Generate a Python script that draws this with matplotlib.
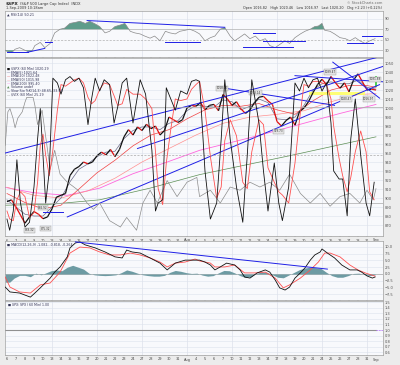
import numpy as np
import matplotlib.pyplot as plt
from matplotlib.collections import LineCollection

# x axis = trading-day index (0 = 6 Jul 2009 ... 41 = 1 Sep 2009)
day_labels = ['6', '7', '8', '9', '10', '13', '14', '15', '16', '17', '20', '21', '22', '23', '24',
              '27', '28', '29', '30', '31', 'Aug', '4', '5', '6', '7', '10', '11', '12', '13', '14',
              '17', '18', '19', '20', '21', '24', '25', '26', '27', '28', '31', 'Sep', '2']
week_starts = [5, 10, 15, 20, 25, 30, 35, 40]

# $SPX price, half-day steps
price = [896, 898, 890, 881, 872, 879, 885, 882, 877, 879, 888, 901, 903, 905, 925, 932, 935, 940,
         938, 940, 947, 951, 948, 954, 946, 954, 968, 976, 970, 979, 975, 982, 977, 980, 970, 975,
         990, 987, 984, 987, 1000, 1003, 1002, 1006, 998, 1003, 1004, 997, 1015, 1010, 1003, 1007,
         999, 994, 998, 1006, 1012, 1013, 1008, 1004, 985, 980, 986, 990, 981, 996, 1000, 1007,
         1017, 1026, 1032, 1026, 1035, 1028, 1022, 1028, 1018, 1031, 1038, 1029, 1020, 1021, 1020]
price_x = [i * 0.5 for i in range(len(price))]

ema5 = [898, 890, 882, 880, 880, 890, 900, 918, 932, 938, 946, 951, 952, 966, 975, 979, 979, 976,
        983, 986, 997, 1003, 1002, 1001, 1009, 1007, 998, 1002, 1010, 1006, 988, 987, 990, 1003,
        1020, 1027, 1029, 1027, 1027, 1031, 1023, 1021]
ema20_x = [0, 2, 4, 6, 8, 10, 12, 14, 16, 18, 20, 22, 24, 26, 28, 30, 32, 34, 36, 38, 40, 41]
ema20 = [905, 895, 888, 892, 910, 928, 942, 958, 970, 976, 988, 998, 1003, 1002, 1005, 998, 993,
         1008, 1020, 1025, 1025, 1023]
ema50_x = [0, 3, 6, 9, 12, 15, 18, 21, 24, 27, 30, 33, 36, 39, 41]
ema50 = [912, 903, 900, 908, 922, 940, 955, 970, 983, 990, 993, 997, 1007, 1015, 1016]
ema200_x = [-0.3, 2.9, 6.7, 10.3, 14, 17.8, 21.4, 27, 32.6, 37, 41]
ema200 = [912, 906, 903, 911, 927, 940, 953, 967, 982, 994, 1004]
sma_x = [-0.3, 4.8, 10.3, 15.9, 21.4, 31.4, 41]
sma = [892, 893, 898, 911, 926, 947, 968]

# slow stochastic
sto_x = [0.0, 0.3, 0.7, 1.1, 1.5, 2.0, 2.5, 3.0, 3.4, 3.7, 4.0, 4.3, 4.7, 5.1, 5.6, 6.0, 6.5, 7.0,
         7.5, 8.0, 8.5, 9.0, 9.4, 9.8, 10.3, 10.8, 11.4, 11.9, 12.3, 12.8, 13.3, 14.0, 14.8, 15.4,
         16.1, 16.5, 16.8, 17.3, 17.7, 18.2, 18.7, 19.3, 20.0, 20.5, 21.0, 21.4, 22.0, 22.6, 23.3,
         23.8, 24.2, 24.8, 25.5, 26.2, 26.7, 27.2, 28.0, 28.5, 29.0, 29.7, 30.2, 30.6, 31.3, 32.0,
         32.5, 33.0, 33.5, 34.0, 34.5, 35.0, 35.5, 36.0, 36.3, 36.9, 37.3, 37.8, 38.2, 38.7, 39.3,
         39.9, 40.3, 40.8]
sto_k = [10, 3, 15, 47, 20, 5, 8, 30, 60, 79, 50, 20, 40, 98, 95, 88, 97, 99, 96, 98, 92, 69, 85,
         98, 90, 97, 94, 70, 80, 95, 98, 70, 97, 88, 53, 15, 20, 22, 92, 85, 78, 90, 88, 96, 97, 96,
         40, 10, 20, 60, 97, 60, 30, 8, 50, 97, 70, 40, 15, 45, 20, 9, 30, 95, 90, 98, 92, 97, 98,
         90, 95, 70, 40, 35, 35, 12, 60, 85, 50, 20, 12, 33]
sto_d = [15, 10, 9, 22, 27, 24, 11, 14, 33, 56, 63, 50, 37, 53, 78, 94, 93, 95, 97, 98, 95, 86, 82,
         84, 91, 95, 94, 87, 81, 82, 91, 88, 88, 85, 79, 52, 29, 19, 45, 66, 85, 84, 85, 91, 94, 96,
         78, 49, 23, 30, 59, 72, 62, 33, 29, 52, 72, 69, 42, 33, 27, 25, 20, 45, 72, 94, 93, 96, 96,
         95, 94, 85, 68, 48, 37, 27, 36, 52, 65, 52, 27, 22]

# $VIX overlay (drawn on the oscillator scale)
vix_x = [-0.2, 0.1, 0.33, 0.67, 0.9, 1.2, 1.7, 2.0, 2.2, 2.9, 3.1, 3.4, 3.9, 4.8, 5.3, 5.9, 6.7, 7.2,
         7.9, 8.9, 9.6, 10.3, 11.4, 12.6, 13.3, 14.4, 15.1, 15.9, 16.7, 17.8, 18.9, 20.0, 21.1, 21.4,
         22.6, 23.7, 24.8, 25.9, 27.0, 28.1, 29.2, 30.3, 31.4, 32.6, 33.7, 34.8, 35.9, 37.0, 38.1,
         39.2, 40.0, 40.7, 41.0]
vix = [56, 77, 79, 73, 67, 73, 77, 83, 86, 86, 81, 69, 78, 41, 53, 38, 33, 31, 28, 20, 16, 20, 9, 5,
       11, 3, 20, 28, 20, 34, 24, 33, 36, 24, 28, 20, 30, 28, 33, 30, 33, 28, 38, 26, 20, 26, 18, 24,
       26, 20, 28, 22, 29]

# RSI(14)
rsi_x = [-0.2, 0.1, 0.55, 0.9, 1.4, 2.0, 2.3, 2.8, 3.1, 3.7, 4.2, 4.8, 5.3, 5.9, 6.4, 7.0, 7.6, 8.1,
         8.7, 9.2, 9.8, 10.3, 10.9, 11.4, 12.0, 12.6, 13.1, 13.7, 14.2, 14.8, 15.3, 15.9, 16.4, 17.0,
         17.6, 18.1, 18.7, 19.2, 19.8, 20.3, 20.9, 21.4, 22.0, 22.6, 23.1, 23.7, 24.2, 24.8, 25.3,
         25.9, 26.4, 27.0, 27.6, 28.1, 28.7, 29.2, 29.8, 30.3, 30.9, 31.4, 32.0, 32.6, 33.1, 33.7,
         34.2, 34.6, 35.0, 35.3, 35.9, 36.4, 37.0, 37.6, 38.1, 38.7, 39.2, 39.8, 40.3, 40.9]
rsi = [30, 27, 26, 32, 35, 30, 28, 29, 39, 45, 35, 43, 63, 70, 72, 81, 83, 85, 81, 85, 80, 75, 63, 66,
       75, 78, 81, 66, 63, 61, 57, 53, 57, 48, 66, 63, 61, 66, 68, 70, 66, 61, 48, 54, 57, 70, 73, 57,
       48, 55, 61, 52, 57, 48, 52, 39, 35, 41, 48, 43, 54, 61, 66, 70, 75, 76, 81, 68, 66, 61, 54, 52,
       48, 54, 48, 43, 48, 52]

# MACD(12,26,9)
macd_x = [-0.2, 0.33, 1.4, 2.6, 3.1, 3.7, 4.8, 5.3, 5.9, 6.7, 7.0, 7.6, 8.1, 8.7, 9.8, 10.9, 12.0,
          12.8, 13.3, 13.9, 14.8, 15.9, 17.0, 17.8, 18.7, 19.8, 20.9, 21.4, 22.0, 22.6, 23.1, 23.7,
          24.4, 25.3, 25.9, 26.4, 27.0, 27.8, 28.7, 29.2, 29.8, 30.3, 30.9, 31.4, 32.0, 32.6, 33.1,
          33.7, 34.2, 34.8, 35.0, 35.6, 36.4, 37.2, 38.1, 38.9, 39.4, 40.0, 40.6, 40.9]
macd = [-4.8, -6.6, -7.0, -8.5, -7.0, -5.1, -1.5, 0.7, 2.6, 6.3, 9.6, 11.4, 11.8, 10.7, 9.6, 8.1,
        6.3, 5.9, 8.8, 8.1, 7.7, 5.9, 4.0, 1.5, 4.0, 5.1, 5.1, 5.1, 4.4, 3.3, 1.5, 2.6, 4.0, 3.3, 1.5,
        -1.1, -1.5, 0.4, 1.5, 0.7, -2.2, -5.1, -5.9, -4.8, -1.5, 0.4, 2.2, 5.1, 7.0, 8.1, 9.2, 7.7,
        5.9, 3.3, 1.5, 1.5, 0.7, -0.7, -1.5, -1.1]
signal_x = [-0.2, 0.33, 1.4, 2.6, 3.7, 4.8, 5.9, 7.0, 8.1, 9.2, 10.3, 11.4, 12.6, 13.7, 14.8, 15.9,
            17.0, 17.8, 18.7, 19.8, 20.9, 21.4, 22.6, 23.1, 24.2, 25.3, 26.4, 27.6, 28.7, 29.8, 30.7,
            31.4, 32.6, 33.7, 34.6, 35.3, 35.9, 37.0, 38.1, 39.0, 39.8, 40.9]
signal = [-1.1, -4.8, -6.6, -7.0, -4.0, -3.3, 0.7, 7.7, 9.9, 9.6, 8.1, 7.0, 7.0, 7.7, 7.0, 5.9, 4.4,
          2.6, 4.0, 4.4, 5.5, 4.8, 4.0, 2.6, 2.6, 3.3, 0.4, 0.4, 0.7, -1.5, -5.1, -4.0, -1.5, 1.5, 4.4,
          7.7, 7.7, 6.3, 3.3, 1.5, 0.4, -0.8]
hist_x = [-0.2, 0.3, 0.8, 1.4, 2.0, 2.6, 3.2, 3.8, 4.4, 4.9, 5.5, 6.1, 6.7, 7.3, 7.9, 8.5, 9.1, 9.7,
          10.3, 10.9, 11.5, 12.1, 12.7, 13.3, 13.9, 14.5, 15.1, 15.7, 16.3, 16.9, 17.5, 18.1, 18.7,
          19.3, 19.9, 20.5, 21.1, 21.7, 22.3, 22.9, 23.5, 24.1, 24.7, 25.3, 25.9, 26.5, 27.1, 27.7,
          28.3, 28.9, 29.5, 30.1, 30.7, 31.3, 31.9, 32.5, 33.1, 33.7, 34.3, 34.9, 35.5, 36.1, 36.7,
          37.3, 37.9, 38.5, 39.1, 39.7, 40.3, 40.9]
hist = [-3, -3, -1.5, -0.5, -0.5, -1, 0.3, -0.3, 0.5, 1.2, 1.5, 1.2, 2.5, 3.2, 2.5, 1.8, 0.3, -0.3,
        -0.5, -0.6, -0.5, -0.3, 0.5, 1.5, 1.0, 0.3, -0.3, -0.6, -0.8, -0.8, -0.5, 0.6, 1.3, 1.0, 0.5,
        0.2, 0.3, -0.4, -0.8, -0.6, 0.4, 1.3, 1.2, 0.4, -0.6, -1.3, -1.0, 0.2, 0.8, 0.6, -0.3, -1.2,
        -1.4, -0.4, 0.6, 1.6, 2.2, 2.5, 2.3, 2.0, 0.6, -0.6, -1.2, -1.2, -0.6, 0.2, 0.3, -0.2, -0.6,
        -0.3]

# $SPX:$SPX ratio
ratio_x = [-0.2, 41.0]
ratio = [1.00, 1.00]

# hand-drawn trendlines: (x0, y0, x1, y1) in data units
price_lines = [(-0.2, 950, 42.2, 1059), (6.7, 879, 41.4, 1026), (14.5, 955, 42.0, 1047),
               (24.2, 1022, 36.4, 1003), (32.0, 1036, 42.0, 1029), (36.2, 1051, 41.4, 1011),
               (4.0, 884, 6.2, 884)]
rsi_lines = [(0.0, 26.4, 2.3, 26.4), (2.3, 26.4, 4.2, 33.6), (4.2, 46, 5.0, 46), (8.9, 86.4, 24.2, 73.6),
             (17.6, 46.4, 21.4, 46.4), (26.2, 35.5, 31.8, 35.5), (27.3, 62.7, 29.8, 62.7),
             (28.5, 48, 33.1, 48), (39.5, 57, 42, 57), (37.8, 43, 40.7, 43)]
macd_lines = [(7.6, 11.8, 35.6, 1.8)]
price_tags = [(2.5, 864, '869.32'), (4.3, 866, '875.32'), (4.0, 889, '886.92'), (23.9, 1022, '1018.00'),
              (27.6, 1017, '1013.14'), (30.2, 974, '979.73'), (35.9, 1040, '1039.47'),
              (37.7, 1010, '1020.47'), (40.2, 1010, '1016.97'), (40.9, 1032, '1031.88')]

blue = '#1f1fe6'
grid_c = '#dde2ec'
panel_bg = '#f8f9fc'
xlim = (-0.22, 41.78)

fig = plt.figure(figsize=(4, 3.65), dpi=100, facecolor='#ececec')


def panel(top, bottom):
    ax = fig.add_axes([5 / 400, 1 - bottom / 365, 378 / 400, (bottom - top) / 365])
    ax.set_facecolor(panel_bg)
    ax.set_xlim(*xlim)
    for s in ax.spines.values():
        s.set_color('#a0a0a0')
        s.set_linewidth(0.5)
    ax.yaxis.tick_right()
    ax.tick_params(axis='y', length=0, pad=1.5, labelsize=2.6, labelcolor='#555555')
    ax.tick_params(axis='x', length=1, width=0.3, color='#999999', pad=0.8, labelsize=2.5,
                   labelcolor='#444444')
    ax.set_xticks(range(len(day_labels)))
    ax.set_xticklabels([])
    for w in week_starts:
        ax.axvline(w, color=grid_c, lw=0.5, zorder=0)
    return ax


def hlines(ax, ticks):
    for t in ticks:
        ax.axhline(t, color=grid_c, lw=0.4, zorder=0)


# header
fig.text(6 / 400, 1 - 4 / 365, '$SPX', fontsize=3.2, weight='bold', va='center', color='#222222')
fig.text(20 / 400, 1 - 4 / 365, '(S&P 500 Large Cap Index)  INDX', fontsize=2.6, va='center', color='#333333')
fig.text(6 / 400, 1 - 8.5 / 365, '1-Sep-2009 10:18am', fontsize=2.5, va='center', color='#333333')
fig.text(382 / 400, 1 - 3 / 365, '© StockCharts.com', fontsize=2.5, va='center', ha='right', color='#666666')
fig.text(382 / 400, 1 - 8 / 365, 'Open 1016.82   High 1020.46   Low 1016.97   Last 1020.20   Chg +2.23 (+0.22%)',
         fontsize=2.4, va='center', ha='right', color='#333333')

# RSI panel
ax_r = panel(11, 57)
ax_r.set_ylim(17.3, 104.5)
ax_r.set_yticks([30, 50, 70, 90])
hlines(ax_r, [90])
ax_r.axhline(70, color='#b0b0b0', lw=0.5, zorder=1)
ax_r.axhline(30, color='#b0b0b0', lw=0.5, zorder=1)
ax_r.axhline(50, color='#b0b0b0', lw=0.5, ls=(0, (3, 2)), zorder=1)
rx, rv = np.array(rsi_x), np.array(rsi)
ax_r.fill_between(rx, 70, rv, where=rv > 70, interpolate=True, color='#5f9c8a', lw=0, zorder=2)
ax_r.fill_between(rx, 30, rv, where=rv < 30, interpolate=True, color='#5f9c8a', lw=0, zorder=2)
ax_r.plot(rsi_x, rsi, color='#8a8a8a', lw=0.5, zorder=3)
for x0, y0, x1, y1 in rsi_lines:
    ax_r.plot([x0, x1], [y0, y1], color=blue, lw=0.7, zorder=4)
ax_r.set_xlim(*xlim)
ax_r.text(0.004, 0.97, '\u25b2 RSI(14) 50.21', transform=ax_r.transAxes, fontsize=2.4, va='top',
          color='#333355')

# main price panel
ax_p = panel(58, 236)
ax_p.set_xticklabels(day_labels)
ax_s = ax_p.twinx()
ax_s.set_ylim(-0.6, 110.6)
ax_s.set_yticks([])
ax_s.set_xlim(*xlim)
for s in ax_s.spines.values():
    s.set_visible(False)
ticks_p = list(range(870, 1051, 10))
ax_p.yaxis.tick_right()
ax_p.set_yticks(ticks_p)
ax_p.tick_params(axis='y', length=0, pad=1.5, labelsize=2.6, labelcolor='#555555')
hlines(ax_p, ticks_p)
ax_s.axhline(80, color='#a8a8a8', lw=0.5)
ax_s.axhline(20, color='#a8a8a8', lw=0.5)
ax_s.axhline(50, color='#a8a8a8', lw=0.5, ls=(0, (3, 2)))

ax_p.plot(sma_x, sma, color='#5c8f55', lw=0.5, zorder=2)
ax_p.plot(ema200_x, ema200, color='#ff66dd', lw=0.6, zorder=2)
ax_p.plot(ema50_x, ema50, color='#ff9090', lw=0.5, zorder=2)
ax_p.plot(ema20_x, ema20, color='#f04040', lw=0.5, zorder=2)
ax_p.plot(range(len(ema5)), ema5, color='#6a6a88', lw=0.5, zorder=3)
pts = np.column_stack([price_x, price])
segs = np.stack([pts[:-1], pts[1:]], axis=1)
cols = ['#e01010' if b < a else '#111111' for a, b in zip(price[:-1], price[1:])]
ax_p.add_collection(LineCollection(segs, colors=cols, linewidths=0.9, zorder=4))
ax_p.plot([price_x[-1], price_x[-1]], [1025, 1034], color='#33cc33', lw=1.2, zorder=5)
ax_p.plot([33.7, 39.6], [1017, 1017], color='#ffff66', lw=2.2, alpha=0.9, zorder=3)
for x0, y0, x1, y1 in price_lines:
    ax_p.plot([x0, x1], [y0, y1], color=blue, lw=0.7, zorder=5)
ax_p.set_xlim(*xlim)
ax_p.set_ylim(857.8, 1055.6)
for x, y, t in price_tags:
    ax_p.text(x, y, t, fontsize=2.0, ha='center', va='center', color='#333333', zorder=6,
              bbox=dict(boxstyle='square,pad=0.2', fc='#e4e4e4', ec='#999999', lw=0.3))

ax_s.plot(vix_x, vix, color='#8c8c8c', lw=0.5)
ax_s.plot(sto_x, sto_d, color='#ff5050', lw=0.6)
ax_s.plot(sto_x, sto_k, color='#111111', lw=0.6)

legend = [('\u25a0', '#111111', '$SPX (60 Min) 1020.29'), ('\u2014', '#6a6a88', 'EMA(5) 1021.64'),
          ('\u2014', '#f04040', 'EMA(20) 1022.48'), ('\u2014', '#ff9090', 'EMA(50) 1015.98'),
          ('\u2014', '#ff66dd', 'EMA(200) 995.40'), ('\u25b2', '#5c8f55', 'Volume undef'),
          ('\u2014', '#111111', 'Slow Sto %K(14,3) 48.65, 33.58'), ('\u2014', '#8c8c8c', '$VIX (60 Min) 25.29')]
for i, (m, c, t) in enumerate(legend):
    yy = (236 - (69 + i * 3.7)) / 178
    ax_s.text(0.004, yy, m, transform=ax_s.transAxes, fontsize=2.3, va='center', color=c)
    ax_s.text(0.016, yy, t, transform=ax_s.transAxes, fontsize=2.3, va='center', color='#333355')

# MACD panel
ax_m = panel(241, 300)
ax_m.set_ylim(-9.56, 12.13)
ticks_m = [-7.5, -5.0, -2.5, 0.0, 2.5, 5.0, 7.5, 10.0]
ax_m.set_yticks(ticks_m)
hlines(ax_m, ticks_m)
ax_m.axhline(0, color='#a8a8a8', lw=0.5)
ax_m.fill_between(hist_x, 0, hist, color='#6d9ba3', lw=0, zorder=2)
ax_m.plot(signal_x, signal, color='#ff5050', lw=0.6, zorder=3)
ax_m.plot(macd_x, macd, color='#111111', lw=0.6, zorder=4)
for x0, y0, x1, y1 in macd_lines:
    ax_m.plot([x0, x1], [y0, y1], color=blue, lw=0.7, zorder=5)
ax_m.set_xlim(*xlim)
ax_m.text(0.004, 0.97, '\u25a0 MACD(12,26,9) -1.082, -0.818, -0.264', transform=ax_m.transAxes,
          fontsize=2.3, va='top', color='#333355')

# ratio panel
ax_q = panel(301, 355)
ax_q.set_ylim(0.554, 1.518)
ticks_q = [0.6, 0.7, 0.8, 0.9, 1.0, 1.1, 1.2, 1.3, 1.4, 1.5]
ax_q.set_yticks(ticks_q)
ax_q.set_yticklabels([f'{t:.1f}' for t in ticks_q])
hlines(ax_q, ticks_q)
ax_q.plot(ratio_x, ratio, color='#909090', lw=0.8)
ax_q.plot([ratio_x[-1], xlim[1]], [ratio[-1], ratio[-1]], color='#c080ff', lw=0.6, ls=(0, (2, 1)))
ax_q.set_xlim(*xlim)
ax_q.set_xticklabels(day_labels)
ax_q.text(0.004, 0.985, '\u25a0 $SPX:$SPX (60 Min) 1.00', transform=ax_q.transAxes, fontsize=2.3,
          va='top', color='#333355')

fig.savefig('out.png', dpi=100, facecolor=fig.get_facecolor())
